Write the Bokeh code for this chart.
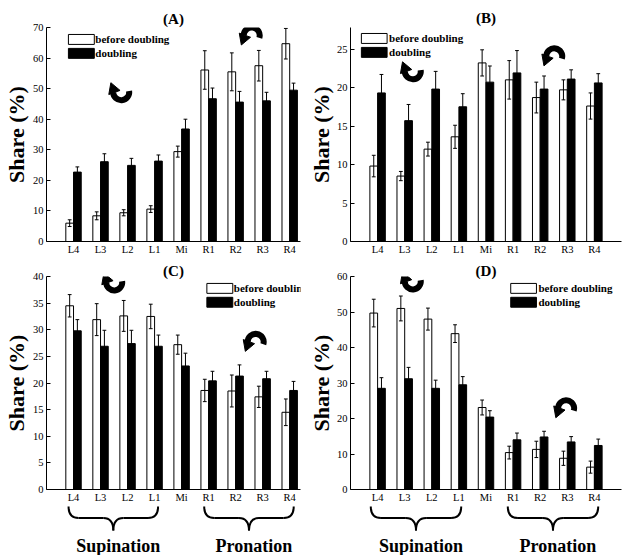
import math
from bokeh.plotting import figure
from bokeh.models import Range1d, FixedTicker, Title
from bokeh.layouts import column, row
from bokeh.core.properties import value
from bokeh.embed import file_html
from bokeh.resources import INLINE

# ---------------- data ----------------
labels = ["L4", "L3", "L2", "L1", "Mi", "R1", "R2", "R3", "R4"]
positions = [1, 2, 3, 4, 5, 6, 7, 8, 9]
group_supination = ["L4", "L3", "L2", "L1"]
group_pronation = ["R1", "R2", "R3", "R4"]
series_names = ["before doubling", "doubling"]

A_before = [6.0, 8.4, 9.4, 10.6, 29.4, 56.1, 55.5, 57.5, 64.7]
A_before_err = [1.1, 1.3, 1.0, 1.1, 1.8, 6.3, 6.2, 5.0, 5.0]
A_doubling = [22.7, 26.1, 24.9, 26.3, 36.8, 46.7, 45.6, 46.0, 49.5]
A_doubling_err = [1.7, 2.6, 2.3, 2.0, 3.2, 3.5, 3.5, 2.8, 2.3]

B_before = [9.8, 8.5, 12.0, 13.6, 23.2, 21.0, 18.7, 19.7, 17.6]
B_before_err = [1.4, 0.6, 0.9, 1.5, 1.7, 2.5, 2.0, 1.3, 1.7]
B_doubling = [19.3, 15.7, 19.8, 17.5, 20.7, 21.9, 19.8, 21.1, 20.6]
B_doubling_err = [2.4, 2.1, 2.3, 1.7, 2.1, 2.9, 1.7, 1.2, 1.2]

C_before = [34.5, 31.9, 32.6, 32.5, 27.2, 18.6, 18.5, 17.4, 14.5]
C_before_err = [2.1, 3.0, 2.9, 2.3, 1.8, 2.1, 3.0, 2.0, 2.5]
C_doubling = [29.8, 26.9, 27.4, 26.9, 23.2, 20.4, 21.3, 20.8, 18.6]
C_doubling_err = [2.1, 3.0, 2.5, 2.1, 2.4, 1.8, 2.1, 1.4, 1.7]

D_before = [49.7, 51.0, 48.0, 43.9, 23.1, 10.4, 11.3, 8.8, 6.3]
D_before_err = [3.9, 3.5, 3.1, 2.5, 2.1, 1.8, 2.3, 2.0, 1.7]
D_doubling = [28.5, 31.2, 28.5, 29.5, 20.4, 14.0, 14.8, 13.4, 12.4]
D_doubling_err = [3.0, 3.2, 2.3, 2.3, 1.8, 1.9, 1.6, 1.5, 1.8]

A_yticks = [0, 10, 20, 30, 40, 50, 60, 70]
B_yticks = [0, 5, 10, 15, 20, 25]
C_yticks = [0, 5, 10, 15, 20, 25, 30, 35, 40]
D_yticks = [0, 10, 20, 30, 40, 50, 60]

# ---------------- layout / style ----------------
SERIF = "Liberation Serif"
COL_X = [0, 306, 629]          # page x of column edges
ROW_Y = [0, 262, 505, 555]     # page y of row edges
# frame in page px: left, top, width, height
FRAMES = {"A": (45, 26, 255, 215), "B": (347, 27, 274, 215),
          "C": (45, 275, 255, 215), "D": (347, 275, 274, 215)}
XMAX = {"A": 9.4, "B": 10.0, "C": 9.4, "D": 10.0}
YMAX = {"A": 70, "B": 27.8, "C": 40, "D": 60}
CELL = {"A": (0, 0), "B": (1, 0), "C": (0, 1), "D": (1, 1)}
BAR_W = 0.285
CAP = 0.07

# y label: (vertical centre in page px, gap to tick labels)
SHARE_POS = {"A": (133.5, 2), "B": (106, 0), "C": (376.5, 2), "D": (374, 0)}
# panel letter: centre in page px
TITLE_POS = {"A": (192, 16), "B": (492, 15), "C": (170, 271), "D": (477, 271)}
LEGEND_POS = {"A": (67, 33, 94), "B": (358, 33, 386), "C": (206, 282, 233), "D": (509, 282, 537)}
ARROWS = {"A": [("cw", 120, 91), ("ccw", 251, 34)],
          "B": [("cw", 410, 71), ("ccw", 553, 56)],
          "C": [("cw", 113, 281), ("ccw", 255, 341)],
          "D": [("cw", 410, 280), ("ccw", 565, 408)]}


def to_data(panel, px, py):
    l, t, w, h = FRAMES[panel]
    return ((px - l) / w * XMAX[panel], (t + h - py) / h * YMAX[panel])


def make_panel(panel, before, before_err, doubling, doubling_err, yticks):
    ci, ri = CELL[panel]
    l, t, w, h = FRAMES[panel]
    fig_w = COL_X[ci + 1] - COL_X[ci]
    fig_h = ROW_Y[ri + 1] - ROW_Y[ri]
    p = figure(width=fig_w, height=fig_h, toolbar_location=None,
               output_backend="svg",
               x_range=Range1d(0, XMAX[panel]), y_range=Range1d(0, YMAX[panel]),
               min_border_left=l - COL_X[ci], min_border_right=COL_X[ci + 1] - (l + w),
               min_border_top=t - ROW_Y[ri], min_border_bottom=ROW_Y[ri + 1] - (t + h))
    p.outline_line_color = None
    p.xgrid.visible = False
    p.ygrid.visible = False
    p.background_fill_color = "white"
    p.border_fill_color = "white"

    # panel letter as the title
    tx, ty = TITLE_POS[panel]
    p.title.text = "(" + panel + ")"
    p.title.align = "center"
    p.title.offset = tx - (l + w / 2)
    p.title.standoff = t - ty - 8.5
    p.title.text_font = SERIF
    p.title.text_font_size = "15px"
    p.title.text_font_style = "bold"
    p.title.text_color = "black"

    # y label as a left title (reads bottom-to-top)
    sy, gap = SHARE_POS[panel]
    p.add_layout(Title(text="Share (%)", align="center", offset=(t + h / 2) - sy,
                       standoff=gap, text_font=SERIF, text_font_size="22px",
                       text_font_style="bold", text_color="black"), "left")

    xb = [x - BAR_W / 2 for x in positions]
    xd = [x + BAR_W / 2 for x in positions]
    p.vbar(x=xb, top=before, width=BAR_W, bottom=0, fill_color="white",
           line_color="black", line_width=1)
    p.vbar(x=xd, top=doubling, width=BAR_W, bottom=0, fill_color="black",
           line_color="black", line_width=1)
    for xs, v, e in ((xb, before, before_err), (xd, doubling, doubling_err)):
        lo = [a - b for a, b in zip(v, e)]
        hi = [a + b for a, b in zip(v, e)]
        p.segment(x0=xs, y0=lo, x1=xs, y1=hi, line_color="black", line_width=1)
        p.segment(x0=[x - CAP for x in xs], y0=hi, x1=[x + CAP for x in xs], y1=hi,
                  line_color="black", line_width=1)
        p.segment(x0=[x - CAP for x in xs], y0=lo, x1=[x + CAP for x in xs], y1=lo,
                  line_color="black", line_width=1)

    # axes
    p.xaxis.ticker = FixedTicker(ticks=positions)
    p.xaxis.major_label_overrides = {pos: lab for pos, lab in zip(positions, labels)}
    p.yaxis.ticker = FixedTicker(ticks=yticks)
    for ax in (p.xaxis, p.yaxis):
        ax.axis_line_color = "black"
        ax.axis_line_width = 1
        ax.major_tick_line_color = "black"
        ax.major_tick_out = 0
        ax.minor_tick_line_color = None
        ax.major_label_text_font = SERIF
        ax.major_label_text_font_size = "10.5px"
        ax.major_label_text_color = "black"
    p.yaxis.major_tick_in = 4
    p.xaxis.major_tick_in = 0
    p.yaxis.major_label_standoff = 3
    p.xaxis.major_label_standoff = 2

    # legend (drawn inside frame, clipped like the original)
    bx, by, txp = LEGEND_POS[panel]
    for k, (name, col) in enumerate(zip(series_names, ["white", "black"])):
        top_px = by + 14 * k
        x0, y0 = to_data(panel, bx, top_px)
        x1, y1 = to_data(panel, bx + 26, top_px + 10)
        p.quad(left=[x0], right=[x1], top=[y0], bottom=[y1], fill_color=col,
               line_color="black", line_width=1)
        tx2, ty2 = to_data(panel, txp, top_px + 5)
        p.text(x=[tx2], y=[ty2], text=[name], text_font=value(SERIF),
               text_font_size="11px", text_font_style="bold", text_align="left",
               text_baseline="middle", text_color="black")

    # rotation arrows
    for kind, px, py in ARROWS[panel]:
        cx, cy = to_data(panel, px, py)
        if kind == "cw":
            p.arc(x=[cx], y=[cy], radius=8, radius_units="screen",
                  start_angle=math.pi, end_angle=2 * math.pi + 0.15,
                  line_width=6, line_color="black")
            hx, hy = to_data(panel, px - 8, py - 3)
            p.scatter(x=[hx], y=[hy], marker="triangle", size=12, angle=0.35,
                      fill_color="black", line_color="black")
        else:
            p.arc(x=[cx], y=[cy], radius=8, radius_units="screen",
                  start_angle=-0.3, end_angle=math.pi,
                  line_width=6, line_color="black")
            hx, hy = to_data(panel, px - 8, py + 3)
            p.scatter(x=[hx], y=[hy], marker="triangle", size=12,
                      angle=math.pi - 0.35, fill_color="black", line_color="black")
    return p


def make_strip(panel, parent, ci):
    l, t, w, h = FRAMES[panel]
    fig_w = COL_X[ci + 1] - COL_X[ci]
    fig_h = ROW_Y[3] - ROW_Y[2]
    s = figure(width=fig_w, height=fig_h, toolbar_location=None,
               output_backend="svg", x_range=parent.x_range,
               y_range=Range1d(0, fig_h), x_axis_type=None, y_axis_type=None,
               min_border_left=l - COL_X[ci], min_border_right=COL_X[ci + 1] - (l + w),
               min_border_top=0, min_border_bottom=0)
    s.outline_line_color = None
    s.xgrid.visible = False
    s.ygrid.visible = False
    bottom = ROW_Y[3]
    top, mid, tip, base = bottom - 506, bottom - 517.5, bottom - 530, bottom - 545
    wbr = 0.37
    for group, word in ((group_supination, "Supination"), (group_pronation, "Pronation")):
        gpos = [positions[labels.index(g)] for g in group]
        x0, x1 = min(gpos) - 0.15, max(gpos) + 0.15
        xm = (min(gpos) + max(gpos)) / 2
        s.quadratic(x0=[x0, x1, xm - wbr, xm + wbr], y0=[top, top, mid, mid],
                    x1=[x0 + wbr, x1 - wbr, xm, xm], y1=[mid, mid, tip, tip],
                    cx=[x0, x1, xm, xm], cy=[mid, mid, mid, mid],
                    line_color="black", line_width=2)
        s.segment(x0=[x0 + wbr, xm + wbr], y0=[mid, mid], x1=[xm - wbr, x1 - wbr],
                  y1=[mid, mid], line_color="black", line_width=2)
        s.text(x=[xm + 0.18], y=[base], text=[word], text_font=value(SERIF),
               text_font_size="18px", text_font_style="bold", text_align="center",
               text_baseline="alphabetic", text_color="black")
    return s


pA = make_panel("A", A_before, A_before_err, A_doubling, A_doubling_err, A_yticks)
pB = make_panel("B", B_before, B_before_err, B_doubling, B_doubling_err, B_yticks)
pC = make_panel("C", C_before, C_before_err, C_doubling, C_doubling_err, C_yticks)
pD = make_panel("D", D_before, D_before_err, D_doubling, D_doubling_err, D_yticks)
sC = make_strip("C", pC, 0)
sD = make_strip("D", pD, 1)

layout = column(row(pA, pB), row(pC, pD), row(sC, sD))
open("out.html", "w").write(file_html(layout, INLINE))
